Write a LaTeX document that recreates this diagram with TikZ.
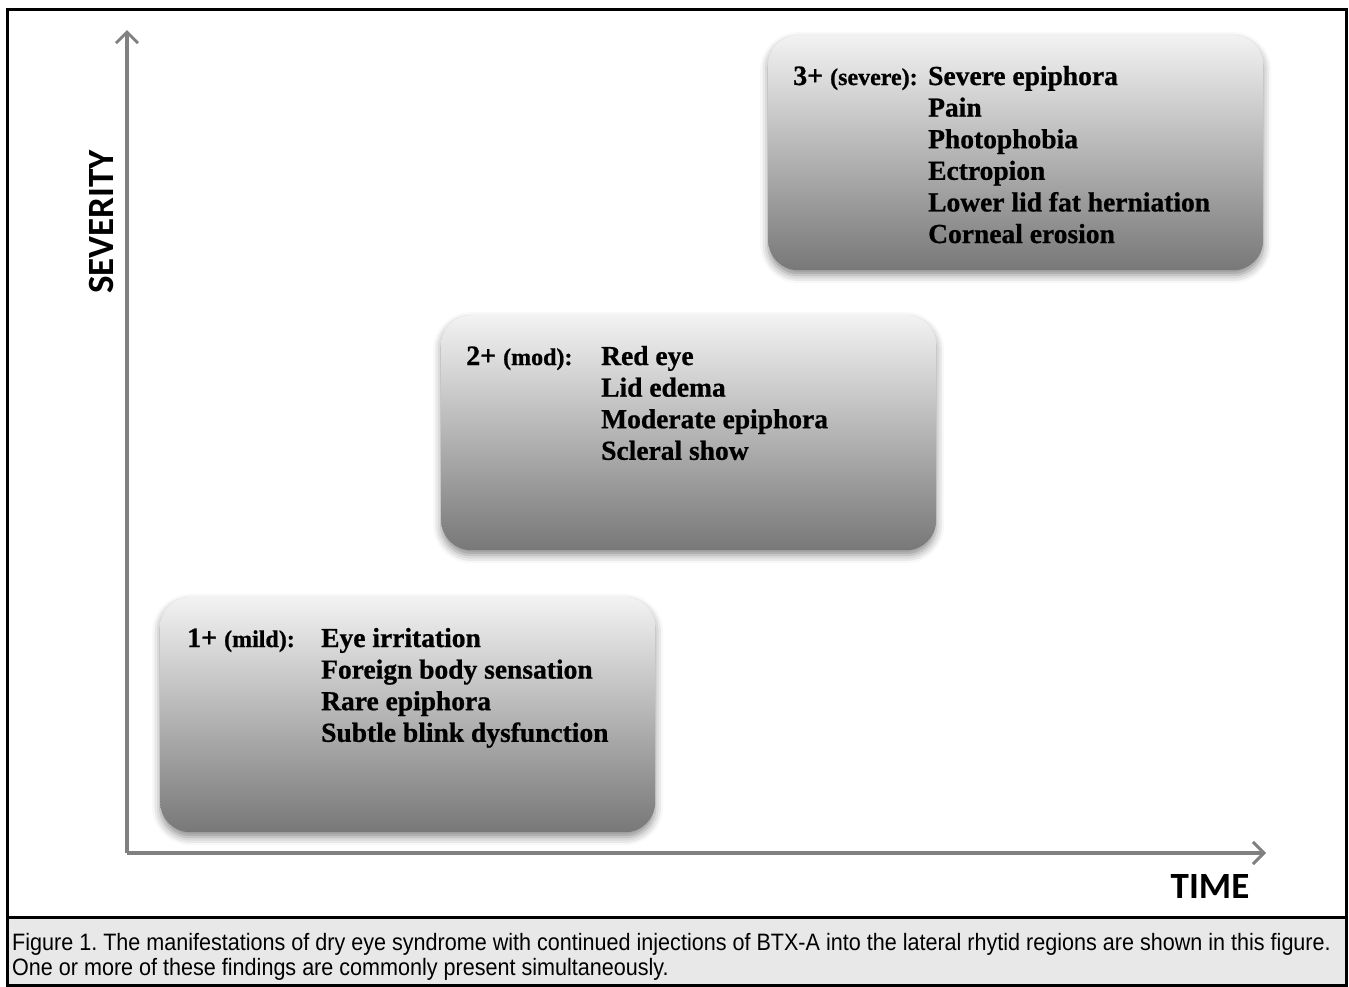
\documentclass[tikz,border=0pt]{standalone}
\usepackage{fontspec}
\setmainfont[BoldFeatures={FakeBold=0.8}]{Liberation Serif}
\newfontfamily\axisfont{Carlito}
\newfontfamily\capfont[FakeStretch=0.91]{Liberation Sans}
\usetikzlibrary{positioning,arrows.meta,shadows.blur}

\tikzset{
  gradebox/.style={rounded corners=30pt, minimum width=495pt, minimum height=235pt,
    inner sep=0pt, top color=black!5, bottom color=black!53,
    blur shadow={shadow xshift=0pt, shadow yshift=-5pt, shadow blur radius=8pt, shadow opacity=45}},
  gradelabel/.style={anchor=base west, inner sep=0pt, font=\bfseries\fontsize{28}{31.6}\selectfont},
  finding/.style={anchor=base west, inner sep=0pt, font=\bfseries\fontsize{27.5}{31.6}\selectfont},
  axisline/.style={draw=gray, line width=3.5pt, -{Straight Barb[length=11pt, width=22pt, line width=3pt]}},
  axislabel/.style={inner sep=0pt, font=\axisfont\bfseries\fontsize{37}{40}\selectfont},
}

\begin{document}
\frenchspacing
\begin{tikzpicture}[x=1pt, y=1pt]
  \useasboundingbox (0,0) rectangle (1349,-986);
  % caption strip and frame
  \fill [black!9] (7,-917) rectangle (1346,-985);
  \draw [black, line width=3pt] (7,-9.5) rectangle (1346,-985);
  \draw [black, line width=3pt] (7,-917) -- (1346,-917);

  % axes
  \coordinate (origin) at (127,-853);
  \coordinate (ytop) at (127,-30);
  \coordinate (xend) at (1266,-853);
  \draw [axisline] (origin) -- (ytop);
  \draw [axisline] (origin) -- (xend);
  \node [axislabel, rotate=90] (severity) at (101,-222) {SEVERITY};
  \node [axislabel] (time) at (1210,-886) {TIME};

  % grade boxes
  \node [gradebox, anchor=north west] (severe) at (768,-35) {};
  \node [gradebox, anchor=north west] (mod) at (441,-315) {};
  \node [gradebox, anchor=north west] (mild) at (160,-597) {};

  \node [gradelabel] (severelab) at ([xshift=25pt, yshift=-50pt]severe.north west)
    {3+ {\fontsize{24}{24}\selectfont(severe):}};
  \node [gradelabel] (modlab) at ([xshift=25pt, yshift=-50pt]mod.north west)
    {2+ {\fontsize{24}{24}\selectfont(mod):}};
  \node [gradelabel] (mildlab) at ([xshift=27pt, yshift=-50pt]mild.north west)
    {1+ {\fontsize{24}{24}\selectfont(mild):}};

  \foreach \t [count=\i] in {Severe epiphora, Pain, Photophobia, Ectropion,
      Lower lid fat herniation, Corneal erosion}
    \node [finding] (severe\i) at ([xshift=160pt, yshift={-50pt-(\i-1)*31.6pt}]severe.north west) {\t};
  \foreach \t [count=\i] in {Red eye, Lid edema, Moderate epiphora, Scleral show}
    \node [finding] (mod\i) at ([xshift=160pt, yshift={-50pt-(\i-1)*31.6pt}]mod.north west) {\t};
  \foreach \t [count=\i] in {Eye irritation, Foreign body sensation, Rare epiphora,
      Subtle blink dysfunction}
    \node [finding] (mild\i) at ([xshift=161pt, yshift={-50pt-(\i-1)*31.6pt}]mild.north west) {\t};

  % caption
  \node [anchor=north west, inner sep=0pt, align=left, font=\capfont\fontsize{23.7}{25}\selectfont]
    (caption) at (12,-933)
    {Figure 1. The manifestations of dry eye syndrome with continued injections of BTX-A into the lateral rhytid regions are shown in this figure.\\
     One or more of these findings are commonly present simultaneously.};
\end{tikzpicture}
\end{document}
